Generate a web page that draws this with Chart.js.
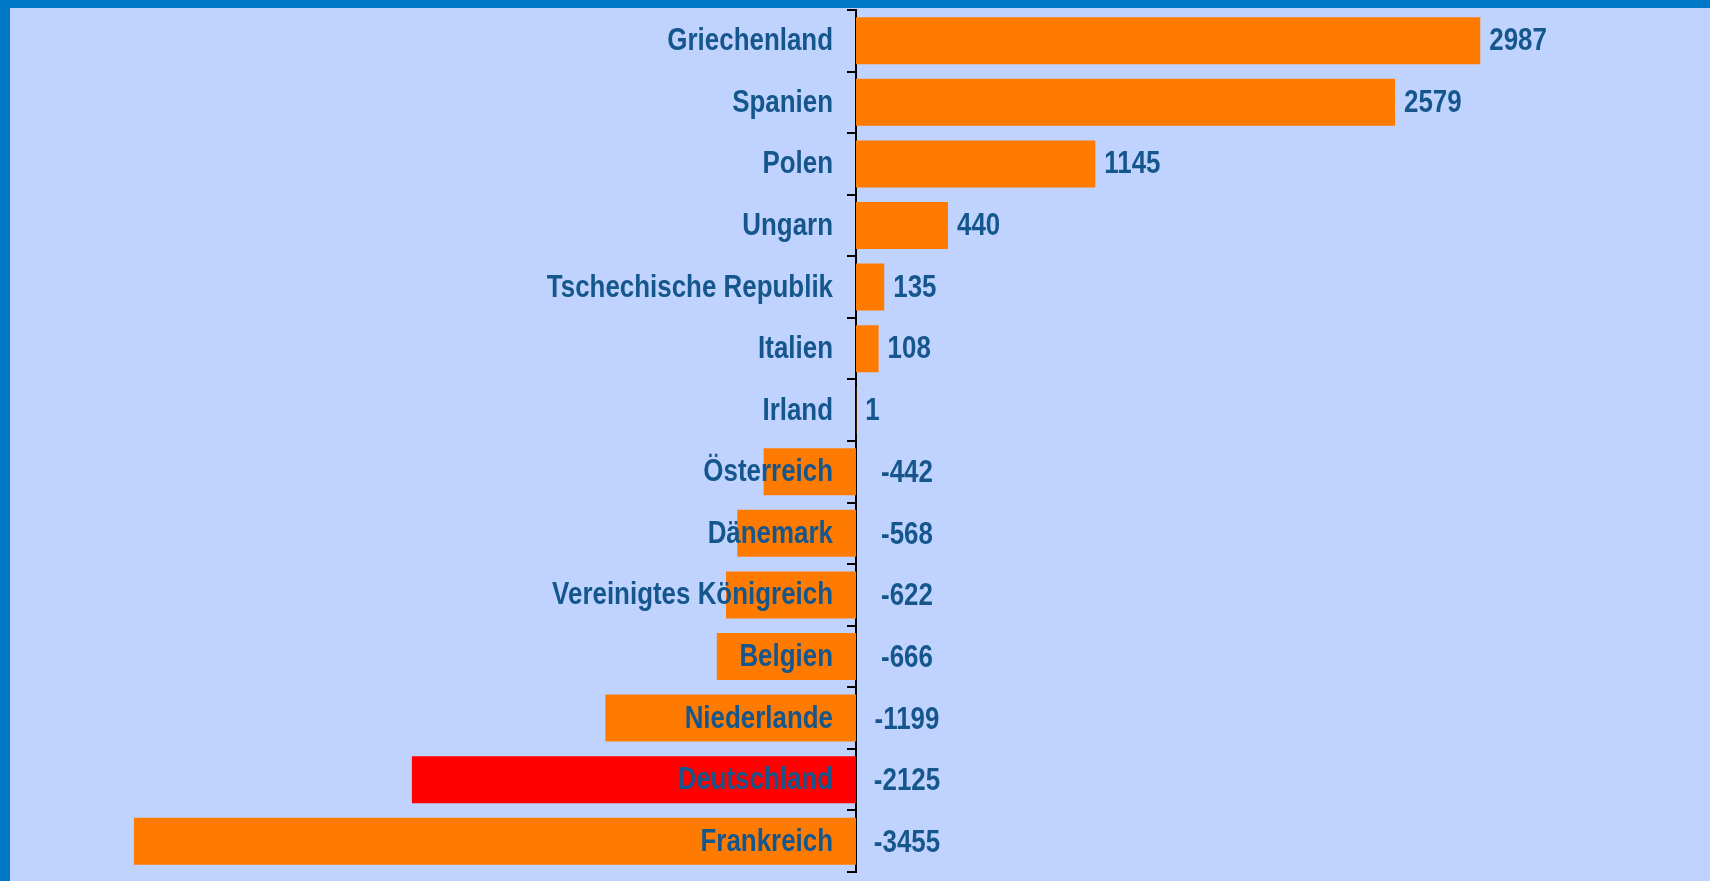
<!DOCTYPE html>
<html>
<head>
<meta charset="utf-8">
<script src="https://cdn.jsdelivr.net/npm/chart.js@4"></script>
<style>
  html, body { margin: 0; padding: 0; width: 1710px; height: 881px; overflow: hidden; background: #C0D3FF; }
  #frameTop { position: absolute; left: 0; top: 0; width: 1710px; height: 8px; background: #0078C8; }
  #frameLeft { position: absolute; left: 0; top: 0; width: 10px; height: 881px; background: #0078C8; }
  canvas { position: absolute; left: 0; top: 0; }
</style>
</head>
<body>
<div id="frameTop"></div>
<div id="frameLeft"></div>
<canvas id="c" width="1710" height="881"></canvas>
<script>
const countries = ["Griechenland", "Spanien", "Polen", "Ungarn", "Tschechische Republik", "Italien", "Irland",
  "Österreich", "Dänemark", "Vereinigtes Königreich", "Belgien", "Niederlande", "Deutschland", "Frankreich"];
const values = [2987, 2579, 1145, 440, 135, 108, 1, -442, -568, -622, -666, -1199, -2125, -3455];
const highlight = "Deutschland";

const FONT = "bold 32px 'Liberation Sans', Arial, sans-serif";
const NARROW = 0.81;
const TEXT = "#15568C";

function narrowText(ctx, text, x, y, align) {
  ctx.save();
  ctx.translate(x, y);
  ctx.scale(NARROW, 1);
  ctx.textAlign = align;
  ctx.fillText(text, 0, 0);
  ctx.restore();
}

const textLayer = {
  id: "textLayer",
  afterDatasetsDraw(chart) {
    const ctx = chart.ctx;
    const xs = chart.scales.x, ys = chart.scales.y;
    const zero = xs.getPixelForValue(0);
    ctx.save();
    ctx.font = FONT;
    ctx.fillStyle = TEXT;
    ctx.textBaseline = "alphabetic";
    chart.data.labels.forEach((lab, i) => {
      const y = ys.getPixelForValue(i) + 9.5;
      narrowText(ctx, lab, zero - 23, y, "right");
    });
    values.forEach((v, i) => {
      const y = ys.getPixelForValue(i) + 9.5;
      if (v >= 0) {
        narrowText(ctx, String(v), xs.getPixelForValue(v) + 9, y, "left");
      } else {
        narrowText(ctx, String(v), zero + 51, y + 1, "center");
      }
    });
    ctx.restore();
  }
};

new Chart(document.getElementById("c"), {
  type: "bar",
  data: {
    labels: countries,
    datasets: [{
      data: values,
      backgroundColor: countries.map(c => c === highlight ? "#FF0000" : "#FF7B00"),
      borderWidth: 0,
      barPercentage: 0.763,
      categoryPercentage: 1,
      clip: false
    }]
  },
  options: {
    indexAxis: "y",
    responsive: false,
    animation: false,
    devicePixelRatio: 1,
    layout: { padding: { left: 0, right: 18, top: 10, bottom: 9 } },
    plugins: { legend: { display: false }, tooltip: { enabled: false } },
    scales: {
      x: { display: false, min: 0, max: 4000 },
      y: {
        position: "left",
        afterFit(scale) { scale.width = 856; scale.paddingTop = 0; scale.paddingBottom = 0; },
        border: { display: true, color: "#000000", width: 2 },
        grid: { display: true, drawOnChartArea: false, drawTicks: true, tickLength: 9, color: "#000000", lineWidth: 2, offset: true },
        ticks: { display: false }
      }
    }
  },
  plugins: [textLayer]
});
</script>
</body>
</html>
